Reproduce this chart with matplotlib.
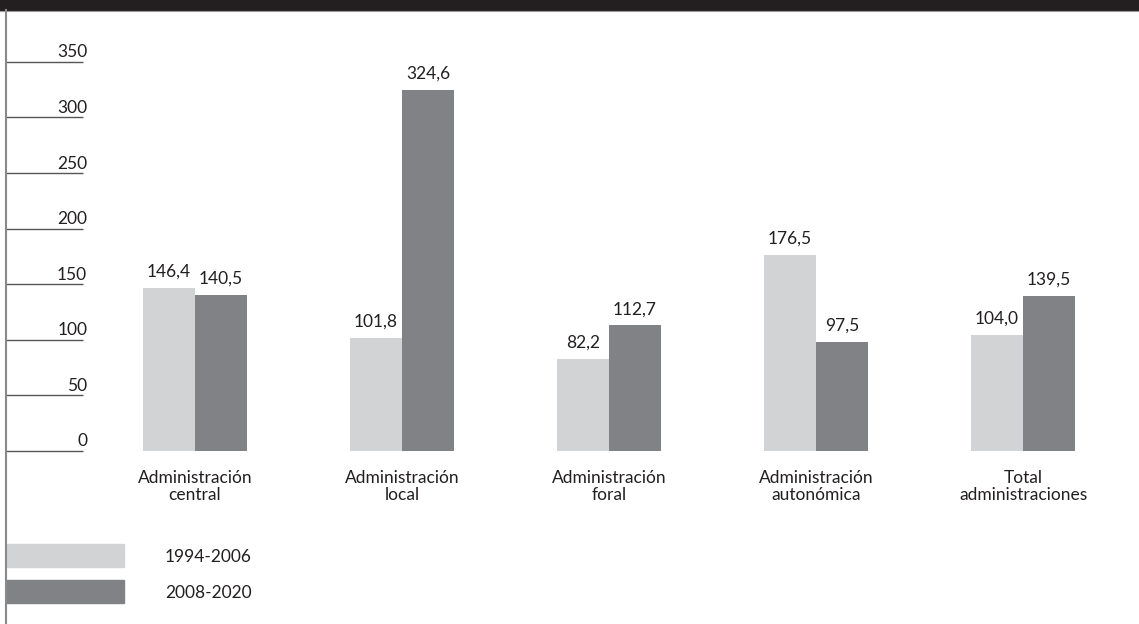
import numpy as np
import matplotlib.pyplot as plt
from matplotlib.patches import Rectangle
from matplotlib.lines import Line2D

# datos
categorias = ["Administración\ncentral", "Administración\nlocal", "Administración\nforal",
              "Administración\nautonómica", "Total\nadministraciones"]
periodos = ["1994-2006", "2008-2020"]
v_1994_2006 = [146.4, 101.8, 82.2, 176.5, 104.0]
v_2008_2020 = [140.5, 324.6, 112.7, 97.5, 139.5]
marcas_y = [0, 50, 100, 150, 200, 250, 300, 350]

gris_claro = "#d1d3d4"
gris_oscuro = "#808285"
texto = "#231f20"

plt.rcParams['font.family'] = ['Lato', 'DejaVu Sans']

W, H = 1139, 624
fig = plt.figure(figsize=(W / 100, H / 100), dpi=100)

# franja superior
fig.patches.append(Rectangle((0, 1 - 10 / H), 1, 10 / H, transform=fig.transFigure,
                             color=texto, zorder=0))
fig.lines.append(Line2D([0, 1], [1 - 10.5 / H] * 2, transform=fig.transFigure,
                        color="#9a9a9a", lw=0.8))
# linea vertical izquierda
fig.lines.append(Line2D([6 / W] * 2, [0, 1 - 10 / H], transform=fig.transFigure,
                        color="#8a8a8a", lw=1.5))

ax = fig.add_axes([6 / W, 0, 1 - 6 / W, 1 - 10 / H])
ax.set_xlim(-0.913, 4.56)
ax.set_ylim(-156, 396.7)
ax.axis('off')

x = np.arange(len(categorias))
ancho = 0.252
ax.bar(x - ancho / 2, v_1994_2006, ancho, color=gris_claro)
ax.bar(x + ancho / 2, v_2008_2020, ancho, color=gris_oscuro)

# escala
x_fin = -0.541
ax.hlines(marcas_y, -0.913, x_fin, color="#555555", lw=1)
for t in marcas_y:
    ax.annotate(str(t), (x_fin, t), xytext=(3, 1), textcoords='offset points',
                ha='right', va='bottom', fontsize=12.5, color=texto)

# etiquetas de valor
for xi, a, b in zip(x, v_1994_2006, v_2008_2020):
    for xx, v in ((xi - ancho / 2, a), (xi + ancho / 2, b)):
        ax.annotate(f"{v:.1f}".replace('.', ','), (xx, v), xytext=(0, 6),
                    textcoords='offset points', ha='center', va='bottom',
                    fontsize=12.5, color=texto)

# categorias
for xi, c in zip(x, categorias):
    ax.annotate(c, (xi, 0), xytext=(0, -14), textcoords='offset points',
                ha='center', va='top', fontsize=12.5, color=texto, linespacing=1.1)

# leyenda
for (y0, col, lab) in ((544, gris_claro, periodos[0]), (580, gris_oscuro, periodos[1])):
    fig.patches.append(Rectangle((6 / W, 1 - (y0 + 23) / H), 118 / W, 23 / H,
                                 transform=fig.transFigure, color=col))
    fig.text(165 / W, 1 - (y0 + 13) / H, lab, ha='left', va='center',
             fontsize=12.5, color=texto)

fig.savefig("out.png", dpi=100)
